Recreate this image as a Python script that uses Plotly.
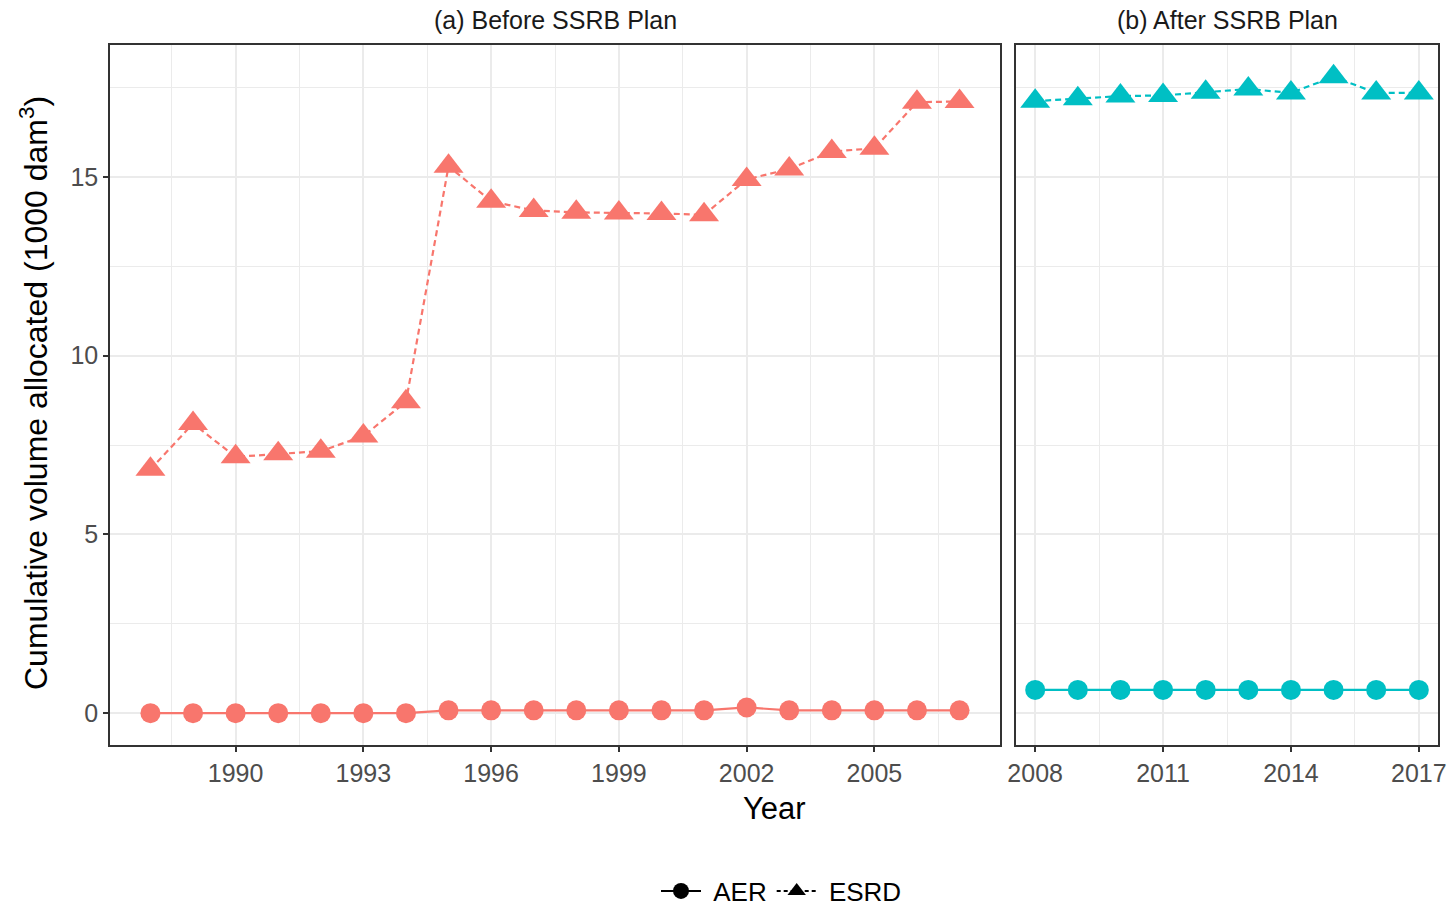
import plotly.graph_objects as go

# Cumulative volume allocated (1000 dam^3), by agency, before and after the SSRB Plan
years_before = [1988, 1989, 1990, 1991, 1992, 1993, 1994, 1995, 1996, 1997,
                1998, 1999, 2000, 2001, 2002, 2003, 2004, 2005, 2006, 2007]
esrd_before = [6.82, 8.10, 7.17, 7.26, 7.33, 7.75, 8.71, 15.30, 14.32, 14.06,
               14.01, 13.99, 13.98, 13.94, 14.93, 15.22, 15.71, 15.80, 17.09, 17.11]
aer_before = [0.0, 0.0, 0.0, 0.0, 0.0, 0.0, 0.0, 0.08, 0.08, 0.08,
              0.08, 0.08, 0.08, 0.08, 0.16, 0.08, 0.08, 0.08, 0.08, 0.08]

years_after = [2008, 2009, 2010, 2011, 2012, 2013, 2014, 2015, 2016, 2017]
esrd_after = [17.12, 17.19, 17.26, 17.28, 17.37, 17.46, 17.35, 17.80, 17.35, 17.35]
aer_after = [0.65, 0.65, 0.65, 0.65, 0.65, 0.65, 0.65, 0.65, 0.65, 0.65]

panel_titles = ["(a) Before SSRB Plan", "(b) After SSRB Plan"]
series_names = ["AER", "ESRD"]
ticks_before = [1990, 1993, 1996, 1999, 2002, 2005]
ticks_after = [2008, 2011, 2014, 2017]
y_ticks = [0, 5, 10, 15]

RED = "#F8766D"
TEAL = "#00BFC4"
FONT = "Liberation Sans, Arial, sans-serif"
W, H = 1448, 907

# panel geometry (pixels)
left_a, right_a = 110, 1000
left_b, right_b = 1016, 1438
top, bottom = 45, 745


def expand(lo, hi, f=0.05):
    d = (hi - lo) * f
    return [lo - d, hi + d]


all_y = esrd_before + aer_before + esrd_after + aer_after
y_range = expand(min(all_y), max(all_y))

fig = go.Figure()

DASH = "6px,4px"


def add_series(x, y, color, xaxis, yaxis, symbol, dash, size):
    fig.add_trace(go.Scatter(
        x=x, y=y, mode="lines+markers", xaxis=xaxis, yaxis=yaxis,
        line=dict(color=color, width=2.2, dash=dash),
        marker=dict(color=color, size=size, symbol=symbol, line=dict(width=0)),
        showlegend=False, hoverinfo="x+y",
    ))


add_series(years_before, aer_before, RED, "x", "y", "circle", "solid", 20)
add_series(years_before, esrd_before, RED, "x", "y", "triangle-up", DASH, 26)
add_series(years_after, aer_after, TEAL, "x2", "y2", "circle", "solid", 20)
add_series(years_after, esrd_after, TEAL, "x2", "y2", "triangle-up", DASH, 26)

# legend keys (shape / linetype only, in black)
fig.add_trace(go.Scatter(x=[None], y=[None], mode="lines+markers",
                         name="\u00a0" + series_names[0],
                         line=dict(color="black", width=2),
                         marker=dict(color="black", symbol="circle", size=16)))
fig.add_trace(go.Scatter(x=[None], y=[None], mode="lines+markers",
                         name="\u00a0" + series_names[1],
                         line=dict(color="black", width=2, dash="4px,3px"),
                         marker=dict(color="black", symbol="triangle-up", size=18)))

axis_common = dict(
    showline=True, linecolor="#333333", linewidth=1.5, mirror=True,
    showgrid=True, gridcolor="#EBEBEB", gridwidth=1.6,
    zeroline=False, ticks="outside", ticklen=5, tickwidth=1.5,
    tickcolor="#333333", automargin=False,
    tickfont=dict(family=FONT, size=25, color="#4D4D4D"),
)

fig.update_layout(
    width=W, height=H,
    margin=dict(l=0, r=0, t=0, b=0, autoexpand=False),
    paper_bgcolor="white", plot_bgcolor="white",
    font=dict(family=FONT),
    xaxis=dict(
        domain=[left_a / W, right_a / W], anchor="y",
        range=expand(min(years_before), max(years_before)),
        tickmode="array", tickvals=ticks_before,
        minor=dict(tickmode="array",
                   tickvals=[t + 1.5 for t in [1987] + ticks_before],
                   showgrid=True, gridcolor="#EBEBEB", gridwidth=0.8, ticks=""),
        **axis_common,
    ),
    xaxis2=dict(
        domain=[left_b / W, right_b / W], anchor="y2",
        range=expand(min(years_after), max(years_after)),
        tickmode="array", tickvals=ticks_after,
        minor=dict(tickmode="array",
                   tickvals=[t + 1.5 for t in ticks_after],
                   showgrid=True, gridcolor="#EBEBEB", gridwidth=0.8, ticks=""),
        **axis_common,
    ),
    yaxis=dict(
        domain=[1 - bottom / H, 1 - top / H], anchor="x",
        range=y_range, tickmode="array", tickvals=y_ticks,
        minor=dict(tickmode="array", tickvals=[t + 2.5 for t in y_ticks],
                   showgrid=True, gridcolor="#EBEBEB", gridwidth=0.8, ticks=""),
        **axis_common,
    ),
    yaxis2=dict(
        domain=[1 - bottom / H, 1 - top / H], anchor="x2", matches="y",
        range=y_range, tickmode="array", tickvals=y_ticks,
        minor=dict(tickmode="array", tickvals=[t + 2.5 for t in y_ticks],
                   showgrid=True, gridcolor="#EBEBEB", gridwidth=0.8, ticks=""),
        **{**axis_common, "ticks": "", "showticklabels": False},
    ),
    legend=dict(
        orientation="h", x=781.5 / W, xanchor="center",
        y=1 - 891 / H, yanchor="middle",
        font=dict(family=FONT, size=26, color="black"),
        itemwidth=40, tracegroupgap=0, bgcolor="rgba(0,0,0,0)",
    ),
)

annotations = [
    dict(text=panel_titles[0], x=((left_a + right_a) / 2) / W, y=1 - 20 / H,
         font=dict(family=FONT, size=25, color="#1A1A1A")),
    dict(text=panel_titles[1], x=((left_b + right_b) / 2) / W, y=1 - 20 / H,
         font=dict(family=FONT, size=25, color="#1A1A1A")),
    dict(text="Year", x=((left_a + right_b) / 2) / W, y=1 - 808 / H,
         font=dict(family=FONT, size=31, color="black")),
    dict(text="Cumulative volume allocated (1000 dam<sup>3</sup>)",
         x=34 / W, y=1 - 393 / H, textangle=-90,
         font=dict(family=FONT, size=32, color="black")),
]
for a in annotations:
    fig.add_annotation(xref="paper", yref="paper", showarrow=False,
                       xanchor="center", yanchor="middle", **a)

fig.write_html("out.html")
